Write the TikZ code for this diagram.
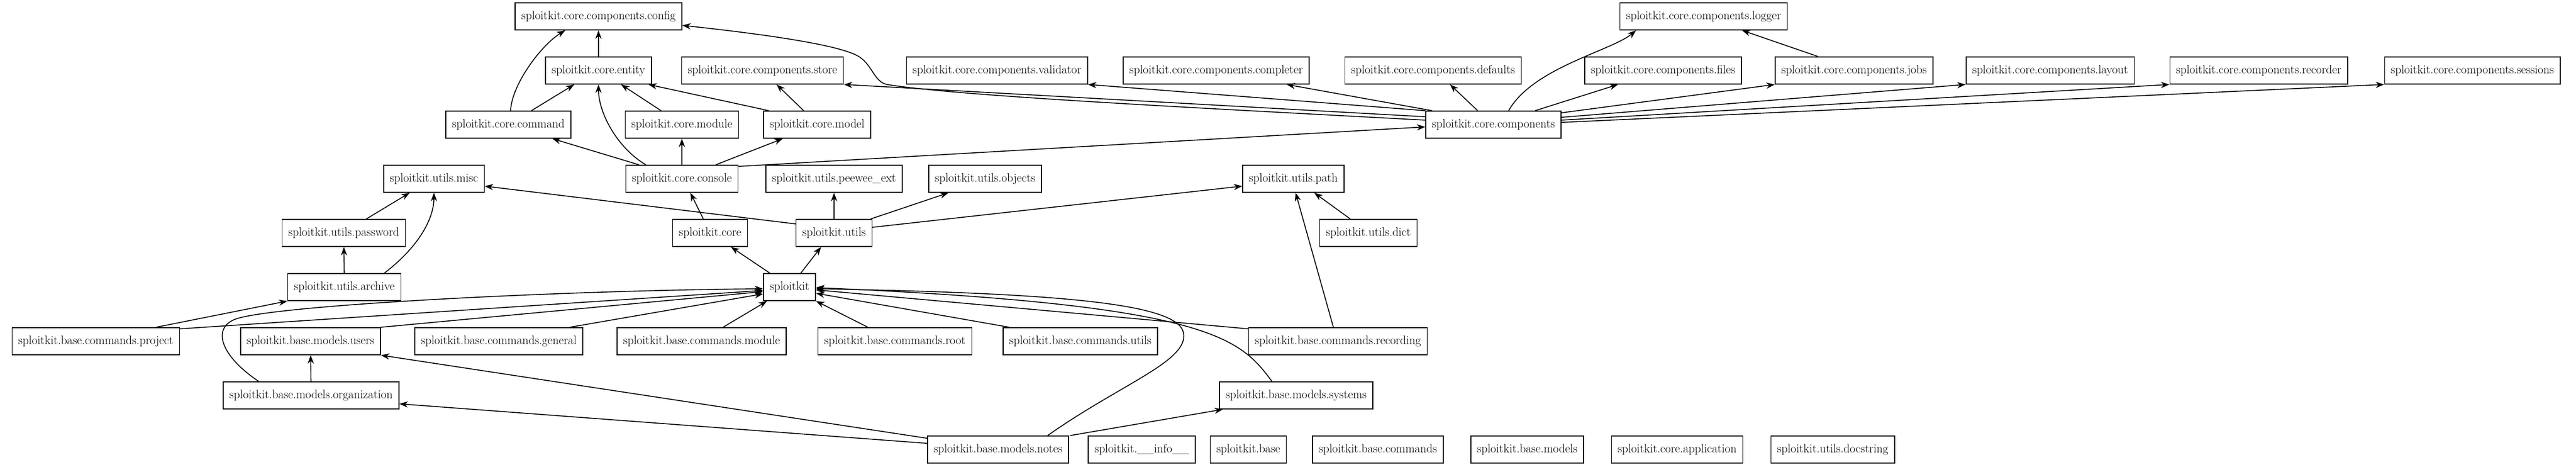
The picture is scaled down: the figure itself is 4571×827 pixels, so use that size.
\documentclass[tikz,border=0pt]{standalone}
\usetikzlibrary{arrows.meta}
\begin{document}
\begin{tikzpicture}[x=1pt,y=-1pt,
  mod/.style={draw, line width=1.6pt, minimum height=48pt, inner xsep=11pt, inner ysep=0pt,
    font=\fontsize{21.5}{26}\selectfont},
  dep/.style={-{Stealth[length=15pt,width=11pt]}, line width=1.6pt}]
\useasboundingbox (0,0) rectangle (4571,827);
\node[mod] (config) at (1062,29) {sploitkit.core.components.config};
\node[mod] (logger) at (3023,29) {sploitkit.core.components.logger};
\node[mod] (entity) at (1062,125) {sploitkit.core.entity};
\node[mod] (store) at (1353,125) {sploitkit.core.components.store};
\node[mod] (validator) at (1769,125) {sploitkit.core.components.validator};
\node[mod] (completer) at (2158,125) {sploitkit.core.components.completer};
\node[mod] (defaults) at (2543,125) {sploitkit.core.components.defaults};
\node[mod] (files) at (2951,125) {sploitkit.core.components.files};
\node[mod] (jobs) at (3290,125) {sploitkit.core.components.jobs};
\node[mod] (layout) at (3638,125) {sploitkit.core.components.layout};
\node[mod] (recorder) at (4008,125) {sploitkit.core.components.recorder};
\node[mod] (sessions) at (4387,125) {sploitkit.core.components.sessions};
\node[mod] (command) at (902,221) {sploitkit.core.command};
\node[mod] (module) at (1210,221) {sploitkit.core.module};
\node[mod] (model) at (1450,221) {sploitkit.core.model};
\node[mod] (components) at (2650,221) {sploitkit.core.components};
\node[mod] (misc) at (770,317) {sploitkit.utils.misc};
\node[mod] (console) at (1210,317) {sploitkit.core.console};
\node[mod] (peewee) at (1480,317) {sploitkit.utils.peewee\_ext};
\node[mod] (objects) at (1748,317) {sploitkit.utils.objects};
\node[mod] (path) at (2295,317) {sploitkit.utils.path};
\node[mod] (password) at (610,413) {sploitkit.utils.password};
\node[mod] (core) at (1260,413) {sploitkit.core};
\node[mod] (utils) at (1480,413) {sploitkit.utils};
\node[mod] (dict) at (2428,413) {sploitkit.utils.dict};
\node[mod] (archive) at (611,509) {sploitkit.utils.archive};
\node[mod] (sploitkit) at (1401,509) {sploitkit};
\node[mod] (project) at (170,605) {sploitkit.base.commands.project};
\node[mod] (users) at (551,605) {sploitkit.base.models.users};
\node[mod] (general) at (885,605) {sploitkit.base.commands.general};
\node[mod] (cmdmodule) at (1245,605) {sploitkit.base.commands.module};
\node[mod] (root) at (1588,605) {sploitkit.base.commands.root};
\node[mod] (cmdutils) at (1917,605) {sploitkit.base.commands.utils};
\node[mod] (recording) at (2374,605) {sploitkit.base.commands.recording};
\node[mod] (organization) at (552,701) {sploitkit.base.models.organization};
\node[mod] (systems) at (2300,701) {sploitkit.base.models.systems};
\node[mod] (notes) at (1771,797) {sploitkit.base.models.notes};
\node[mod] (info) at (2026,797) {sploitkit.\_\_info\_\_};
\node[mod] (base) at (2215,797) {sploitkit.base};
\node[mod] (basecommands) at (2445,797) {sploitkit.base.commands};
\node[mod] (basemodels) at (2710,797) {sploitkit.base.models};
\node[mod] (application) at (2976,797) {sploitkit.core.application};
\node[mod] (docstring) at (3252,797) {sploitkit.utils.docstring};
\draw[dep] (entity) -- (config);
\draw[dep] ([xshift=4pt]command.north) .. controls (908,150) and (960,80) .. ([xshift=-59pt]config.south);
\draw[dep] ([yshift=8pt]components.west) .. controls (2100,190) and (1700,170) .. (1575,150)
  .. controls (1550,146) and (1548,112) .. (1520,98) .. controls (1480,78) and (1350,60) .. ([yshift=-16pt]config.east);
\draw[dep] ([xshift=41pt]command.north) -- ([xshift=-43pt]entity.south);
\draw[dep] ([xshift=-64pt]console.north) .. controls (1095,262) and (1062,200) .. (entity.south);
\draw[dep] ([xshift=-37pt]module.north) -- ([xshift=40pt]entity.south);
\draw[dep] ([xshift=10pt]model.north west) -- ([xshift=-6pt]entity.south east);
\draw[dep] ([xshift=-24pt]model.north) -- ([xshift=25pt]store.south);
\draw[dep] ([xshift=-76pt]console.north) -- ([xshift=78pt]command.south);
\draw[dep] (console) -- (module);
\draw[dep] ([xshift=60pt]console.north) -- ([xshift=-61pt]model.south);
\draw[dep] ([yshift=22pt]console.east) -- ([yshift=-4pt]components.west);
\draw[dep] ([yshift=14pt]components.west) -- (store.south east);
\draw[dep] (components.north west) -- (validator.south east);
\draw[dep] ([xshift=12pt]components.north west) -- ([xshift=125pt]completer.south);
\draw[dep] ([xshift=-28pt]components.north) -- ([xshift=30pt]defaults.south);
\draw[dep] ([xshift=27pt]components.north) .. controls (2720,120) and (2860,90) .. ([xshift=-120pt]logger.south);
\draw[dep] ([xshift=74pt]components.north) -- ([xshift=-80pt]files.south);
\draw[dep] ([yshift=21pt]components.east) -- (jobs.south west);
\draw[dep] ([yshift=13pt]components.east) -- (layout.south west);
\draw[dep] ([yshift=8pt]components.east) -- (recorder.south west);
\draw[dep] ([yshift=4pt]components.east) -- (sessions.south west);
\draw[dep] ([xshift=-64pt]jobs.north) -- ([xshift=68pt]logger.south);
\draw[dep] ([xshift=-12pt]core.north) -- ([xshift=15pt]console.south);
\draw[dep] ([yshift=16pt]utils.west) -- ([yshift=-13pt]misc.east);
\draw[dep] (utils) -- (peewee);
\draw[dep] ([xshift=65pt]utils.north) -- ([xshift=-65pt]objects.south);
\draw[dep] ([yshift=10pt]utils.east) -- ([yshift=-13pt]path.west);
\draw[dep] ([xshift=-32pt]dict.north) -- ([xshift=37pt]path.south);
\draw[dep] ([xshift=-8pt]recording.north) -- ([xshift=4pt]path.south);
\draw[dep] ([xshift=40pt]password.north) -- ([xshift=-43pt]misc.south);
\draw[dep] (archive) -- (password);
\draw[dep] ([xshift=71pt]archive.north) .. controls (740,440) and (770,390) .. (misc.south);
\draw[dep] ([xshift=-35pt]sploitkit.north) -- ([xshift=37pt]core.south);
\draw[dep] ([xshift=20pt]sploitkit.north) -- ([xshift=-23pt]utils.south);
\draw[dep] ([xshift=107pt]project.north) -- (archive.south west);
\draw[dep] ([yshift=22pt]project.east) -- ([yshift=-6pt]sploitkit.west);
\draw[dep] ([xshift=-93pt]organization.north) .. controls (390,630) and (375,580) .. (420,565)
  .. controls (500,540) and (1000,515) .. ([yshift=-3pt]sploitkit.west);
\draw[dep] (users.north east) -- ([yshift=-8pt]sploitkit.west);
\draw[dep] ([xshift=126pt]general.north) -- ([yshift=-12pt]sploitkit.west);
\draw[dep] ([xshift=38pt]cmdmodule.north) -- ([xshift=7pt]sploitkit.south west);
\draw[dep] ([xshift=-48pt]root.north) -- (sploitkit.south east);
\draw[dep] ([xshift=-126pt]cmdutils.north) -- ([yshift=-11pt]sploitkit.east);
\draw[dep] ([yshift=22pt]recording.west) -- ([yshift=-5pt]sploitkit.east);
\draw[dep] ([xshift=88pt]notes.north) .. controls (1990,680) and (2110,640) .. (2100,590)
  .. controls (2090,540) and (1900,520) .. ([yshift=-3pt]sploitkit.east);
\draw[dep] ([xshift=-43pt]systems.north) .. controls (2200,600) and (2150,540) .. ([yshift=-1pt]sploitkit.east);
\draw[dep] (organization) -- (users);
\draw[dep] ([yshift=20pt]notes.west) -- (users.south east);
\draw[dep] ([yshift=11pt]notes.west) -- ([yshift=-15pt]organization.east);
\draw[dep] ([xshift=128pt]notes.north) -- ([xshift=-130pt]systems.south);
\end{tikzpicture}
\end{document}
